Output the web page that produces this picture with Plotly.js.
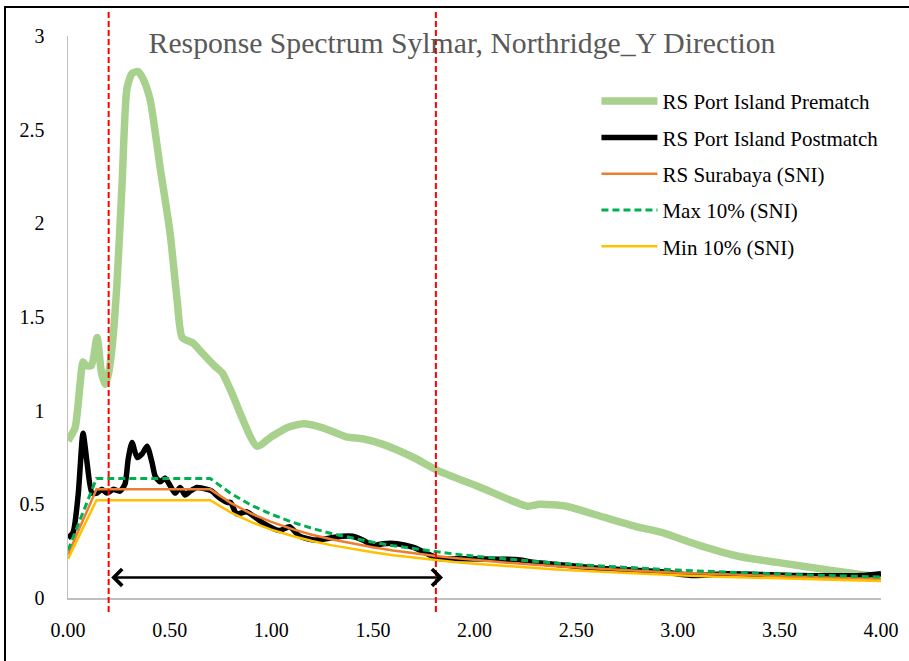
<!DOCTYPE html>
<html>
<head>
<meta charset="utf-8">
<script src="https://cdn.plot.ly/plotly-3.0.1.min.js"></script>
<style>
  html, body { margin: 0; padding: 0; background: #fff; }
  #wrap { position: relative; width: 909px; height: 661px; }
  #chart { width: 909px; height: 661px; }
  #frame { position: absolute; left: 4px; top: 6px; width: 905px; height: 655px;
           border-left: 2px solid #000; border-top: 2px solid #000; pointer-events: none; box-sizing: border-box; }
</style>
</head>
<body>
<div id="wrap">
  <div id="chart"></div>
  <div id="frame"></div>
</div>
<script>
// ---- Data ----
const titleText = "Response Spectrum Sylmar, Northridge_Y Direction";
const seriesNames = ["RS Port Island Prematch", "RS Port Island Postmatch", "RS Surabaya (SNI)", "Max 10% (SNI)", "Min 10% (SNI)"];

const preT = [0, 0.035, 0.06, 0.074, 0.09, 0.115, 0.143, 0.165, 0.183, 0.2, 0.217, 0.241, 0.266, 0.29, 0.315, 0.345, 0.37, 0.404, 0.453, 0.502, 0.537, 0.562, 0.616, 0.65, 0.72, 0.76, 0.80, 0.93, 1.0, 1.08, 1.16, 1.25, 1.37, 1.45, 1.55, 1.70, 1.82, 2.03, 2.26, 2.32, 2.45, 2.64, 2.80, 2.92, 3.11, 3.31, 3.49, 3.74, 3.94, 4.0];
const preSa = [0.84, 0.91, 1.15, 1.26, 1.24, 1.24, 1.39, 1.20, 1.14, 1.20, 1.34, 1.68, 2.21, 2.72, 2.80, 2.81, 2.77, 2.66, 2.30, 1.95, 1.59, 1.39, 1.36, 1.32, 1.24, 1.20, 1.11, 0.81, 0.86, 0.91, 0.93, 0.91, 0.86, 0.85, 0.82, 0.75, 0.68, 0.59, 0.49, 0.50, 0.49, 0.43, 0.38, 0.35, 0.28, 0.22, 0.19, 0.15, 0.12, 0.12];

const postT = [0, 0.025, 0.05, 0.074, 0.094, 0.118, 0.143, 0.167, 0.192, 0.222, 0.256, 0.281, 0.296, 0.315, 0.34, 0.365, 0.389, 0.414, 0.429, 0.453, 0.478, 0.502, 0.527, 0.552, 0.576, 0.601, 0.635, 0.685, 0.709, 0.739, 0.783, 0.80, 0.83, 0.88, 0.96, 1.04, 1.09, 1.14, 1.21, 1.29, 1.35, 1.40, 1.45, 1.50, 1.55, 1.62, 1.70, 1.78, 1.83, 1.95, 2.20, 2.30, 2.40, 2.59, 2.92, 3.08, 3.25, 3.60, 3.90, 4.0];
const postSa = [0.32, 0.35, 0.55, 0.88, 0.72, 0.56, 0.56, 0.58, 0.56, 0.58, 0.57, 0.61, 0.74, 0.83, 0.75, 0.77, 0.81, 0.72, 0.65, 0.62, 0.64, 0.60, 0.56, 0.59, 0.55, 0.57, 0.59, 0.58, 0.57, 0.54, 0.51, 0.51, 0.45, 0.46, 0.40, 0.36, 0.38, 0.33, 0.31, 0.32, 0.33, 0.33, 0.31, 0.28, 0.29, 0.29, 0.27, 0.23, 0.21, 0.21, 0.205, 0.19, 0.18, 0.16, 0.14, 0.12, 0.13, 0.12, 0.12, 0.13];

const sniT = [0, 0.14, 0.7, 0.8, 0.9, 1.0, 1.1, 1.2, 1.3, 1.4, 1.5, 1.6, 1.7, 1.8, 1.9, 2.0, 2.2, 2.4, 2.6, 2.8, 3.0, 3.2, 3.4, 3.6, 3.8, 4.0];
const sniSa = [0.232, 0.58, 0.58, 0.508, 0.451, 0.406, 0.369, 0.338, 0.312, 0.29, 0.271, 0.254, 0.239, 0.226, 0.214, 0.203, 0.185, 0.169, 0.156, 0.145, 0.135, 0.127, 0.119, 0.113, 0.107, 0.102];
const maxSa = [0.255, 0.638, 0.638, 0.559, 0.496, 0.447, 0.406, 0.372, 0.343, 0.319, 0.298, 0.279, 0.263, 0.248, 0.235, 0.223, 0.203, 0.186, 0.172, 0.160, 0.149, 0.140, 0.131, 0.124, 0.118, 0.112];
const minSa = [0.209, 0.522, 0.522, 0.457, 0.406, 0.365, 0.332, 0.304, 0.281, 0.261, 0.244, 0.228, 0.215, 0.203, 0.192, 0.183, 0.166, 0.152, 0.141, 0.130, 0.122, 0.114, 0.107, 0.102, 0.096, 0.091];

const markerT = [0.2, 1.81];        // red dashed period limits
const arrowT = [0.205, 1.845];      // double arrow span
const arrowSa = 0.11;
const xTicks = [0, 0.5, 1, 1.5, 2, 2.5, 3, 3.5, 4];
const yTicks = [0, 0.5, 1, 1.5, 2, 2.5, 3];

const serif = "Liberation Serif, Times New Roman, serif";

const traces = [
  {x: preT, y: preSa, name: seriesNames[0], mode: 'lines', legendgroup: 'a',
   line: {color: '#A9D18E', width: 7.5, shape: 'spline', smoothing: 0.6}},
  {x: postT, y: postSa, name: seriesNames[1], mode: 'lines', legendgroup: 'b',
   line: {color: '#000000', width: 5.5, shape: 'spline', smoothing: 0.6}},
  {x: sniT, y: sniSa, name: seriesNames[2], mode: 'lines', legendgroup: 'c',
   line: {color: '#ED7D31', width: 2.5}},
  {x: sniT, y: maxSa, name: seriesNames[3], mode: 'lines', legendgroup: 'd',
   line: {color: '#00B050', width: 3, dash: '7px,4px'}},
  {x: sniT, y: minSa, name: seriesNames[4], mode: 'lines', legendgroup: 'e',
   line: {color: '#FFC000', width: 2.5}}
];

const shapes = markerT.map(t => ({
  type: 'line', xref: 'x', yref: 'paper', x0: t, x1: t, y0: -0.025, y1: 1.043,
  line: {color: '#FF0000', width: 2, dash: '6px,3px'}, layer: 'above'
}));

const layout = {
  width: 909, height: 661,
  margin: {l: 68, r: 28, t: 36, b: 63},
  paper_bgcolor: '#fff', plot_bgcolor: '#fff',
  font: {family: serif, color: '#000', size: 20},
  title: {text: titleText, font: {family: serif, size: 29.7, color: '#595959'},
          x: 462 / 909, xref: 'container', xanchor: 'center', y: 1 - 43 / 661, yref: 'container', yanchor: 'middle'},
  xaxis: {range: [0, 4], tickvals: xTicks, tickformat: '.2f', showgrid: false, zeroline: false,
          showline: true, linecolor: '#BFBFBF', linewidth: 1.5, ticks: '', ticklabelstandoff: 13,
          tickfont: {family: serif, size: 20, color: '#000'}},
  yaxis: {range: [0, 3], tickvals: yTicks, showgrid: false, zeroline: false,
          showline: true, linecolor: '#BFBFBF', linewidth: 1.5, ticks: '', ticklabelstandoff: 18,
          tickfont: {family: serif, size: 20, color: '#000'}},
  showlegend: true,
  legend: {x: 0.65, xanchor: 'left', y: 0.92, yanchor: 'top', bgcolor: 'rgba(0,0,0,0)',
           font: {family: serif, size: 21, color: '#000'}, tracegroupgap: 6, itemwidth: 56},
  shapes: shapes,
  annotations: [{
    x: arrowT[1], y: arrowSa, ax: arrowT[0], ay: arrowSa, xref: 'x', yref: 'y', axref: 'x', ayref: 'y',
    text: '', showarrow: true, arrowhead: 4, startarrowhead: 4, arrowside: 'end+start',
    arrowsize: 1.3, startarrowsize: 1.3, arrowwidth: 2.5, arrowcolor: '#000'
  }]
};

Plotly.newPlot('chart', traces, layout, {displayModeBar: false, staticPlot: true});
</script>
</body>
</html>
